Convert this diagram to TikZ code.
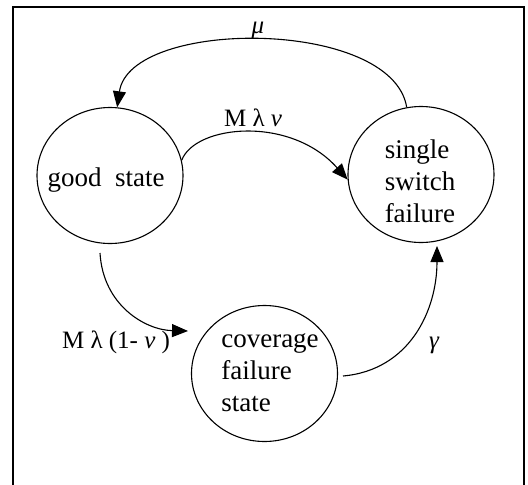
\documentclass[tikz,border=0pt]{standalone}
\usepackage{fontspec}
\setmainfont{Liberation Serif}
\usetikzlibrary{arrows.meta,shapes.geometric}
\begin{document}
\begin{tikzpicture}[x=1pt,y=-1pt,
  state/.style={draw,ellipse,line width=1.1pt,minimum width=146pt,minimum height=136pt,inner sep=0pt,align=left,font=\fontsize{27}{32}\selectfont},
  txt/.style={inner sep=0pt,align=left,font=\fontsize{27}{32}\selectfont},
  lbl/.style={font=\fontsize{25}{28}\selectfont,inner sep=0pt},
  conn/.style={line width=1.1pt,-{Triangle[length=16pt,width=13pt]}},
  frame/.style={line width=1.3pt}]
\useasboundingbox (0,0) rectangle (528,485);
\draw[frame] (13,485) -- (13,7) -- (524,7) -- (524,485);
\node[state] (good) at (110,175.5) {};
\node[txt] (goodtxt) at (106,180) {good\ \ state};
\node[state] (single) at (421,174.5) {};
\node[txt] (singletxt) at (420,181) {single\\switch\\failure};
\node[state] (cov) at (264.5,373.5) {};
\node[txt] (covtxt) at (270,373) {coverage\\failure\\state};
\coordinate (t1) at (188,331);
\coordinate (s3) at (100,253);
\coordinate (s4) at (343,376);
\coordinate (t4) at (437,246);
\draw[conn] (single.102) .. controls (392,18) and (130,18) .. (good.84);
\draw[conn] (good.12) .. controls (195,125) and (290,115) .. (single.184);
\draw[conn] (s3) .. controls (103,305) and (145,330) .. (t1);
\draw[conn] (s4) .. controls (410,370) and (437,310) .. (t4);
\node[lbl] (mu) at (258,30) {\itshape μ};
\node[lbl] (l2) at (253,118) {M λ \textit{ν}};
\node[lbl] (l3) at (116,342) {M λ (1- \textit{ν} )};
\node[lbl] (l4) at (434,345) {\itshape γ};
\end{tikzpicture}
\end{document}
